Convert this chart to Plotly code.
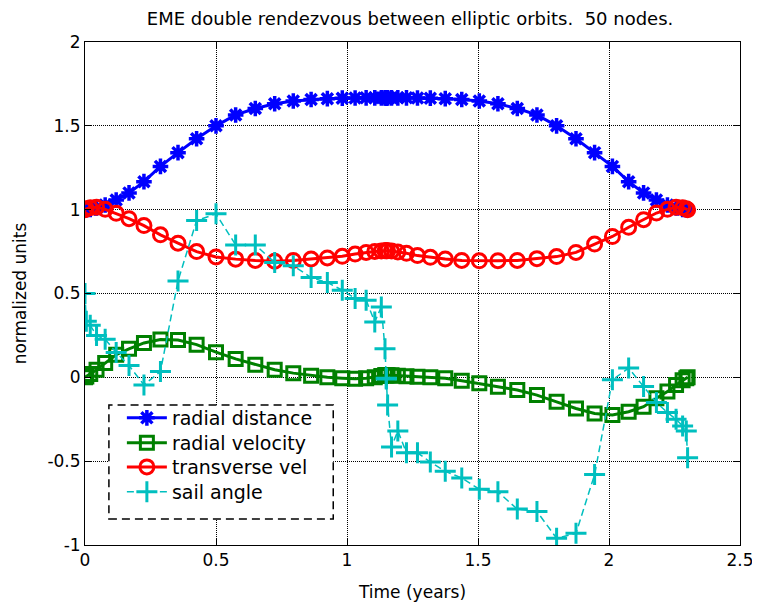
import plotly.graph_objects as go

# Time nodes (years): two phases of 25 nodes each
t = [0.000, 0.005, 0.020, 0.044, 0.077, 0.119, 0.168, 0.225, 0.288, 0.355,
     0.426, 0.500, 0.575, 0.650, 0.724, 0.795, 0.863, 0.925, 0.982, 1.031,
     1.073, 1.106, 1.131, 1.145, 1.150,
     1.150, 1.155, 1.170, 1.194, 1.227, 1.269, 1.318, 1.375, 1.438, 1.505,
     1.576, 1.650, 1.725, 1.800, 1.874, 1.945, 2.013, 2.075, 2.132, 2.181,
     2.223, 2.256, 2.281, 2.295, 2.300]

radial_distance = [1.000, 1.000, 1.002, 1.010, 1.028, 1.058, 1.100, 1.167, 1.258, 1.340,
                   1.423, 1.500, 1.565, 1.603, 1.632, 1.648, 1.657, 1.662, 1.665, 1.666,
                   1.667, 1.667, 1.667, 1.667, 1.667,
                   1.667, 1.667, 1.667, 1.667, 1.667, 1.666, 1.665, 1.662, 1.657, 1.648,
                   1.632, 1.603, 1.565, 1.500, 1.423, 1.340, 1.258, 1.167, 1.100, 1.058,
                   1.028, 1.010, 1.002, 1.000, 1.000]

radial_velocity = [0.000, 0.005, 0.020, 0.045, 0.085, 0.135, 0.170, 0.205, 0.225, 0.222,
                   0.195, 0.150, 0.110, 0.075, 0.045, 0.025, 0.010, 0.000, -0.005, -0.008,
                   -0.005, 0.000, 0.008, 0.012, 0.013,
                   0.013, 0.013, 0.012, 0.010, 0.007, 0.003, 0.000, -0.005, -0.020, -0.036,
                   -0.056, -0.076, -0.106, -0.146, -0.186, -0.216, -0.225, -0.205, -0.175, -0.125,
                   -0.085, -0.045, -0.018, -0.005, 0.000]

transverse_vel = [1.000, 1.005, 1.012, 1.015, 1.002, 0.978, 0.946, 0.905, 0.850, 0.800,
                  0.750, 0.718, 0.705, 0.697, 0.693, 0.697, 0.706, 0.712, 0.722, 0.735,
                  0.745, 0.750, 0.753, 0.755, 0.755,
                  0.755, 0.755, 0.753, 0.748, 0.740, 0.726, 0.716, 0.706, 0.697, 0.695,
                  0.696, 0.697, 0.708, 0.720, 0.745, 0.795, 0.840, 0.895, 0.940, 0.980,
                  1.002, 1.014, 1.012, 1.005, 1.000]

sail_angle = [0.500, 0.335, 0.310, 0.250, 0.227, 0.148, 0.070, -0.045, 0.035, 0.575,
              0.935, 0.975, 0.790, 0.790, 0.685, 0.665, 0.595, 0.565, 0.520, 0.470,
              0.460, 0.330, 0.420, 0.170, -0.005,
              -0.010, -0.165, -0.415, -0.320, -0.450, -0.450, -0.505, -0.560, -0.600, -0.667,
              -0.683, -0.786, -0.800, -0.960, -0.930, -0.580, -0.015, 0.055, -0.055, -0.150,
              -0.210, -0.250, -0.290, -0.320, -0.480]

x_ticks = [0, 0.5, 1, 1.5, 2, 2.5]
x_tick_labels = ["0", "0.5", "1", "1.5", "2", "2.5"]
y_ticks = [-1, -0.5, 0, 0.5, 1, 1.5, 2]
y_tick_labels = ["-1", "-0.5", "0", "0.5", "1", "1.5", "2"]

FONT = "DejaVu Sans, Liberation Sans, Arial, sans-serif"
BLUE = "rgb(0,0,255)"
GREEN = "rgb(0,128,0)"
RED = "rgb(255,0,0)"
CYAN = "rgb(0,191,191)"

fig = go.Figure()
fig.add_trace(go.Scatter(
    x=t, y=radial_distance, name="radial distance", legend="legend",
    mode="lines+markers",
    line=dict(color=BLUE, width=3),
    marker=dict(symbol="asterisk-open", size=13, line=dict(color=BLUE, width=3.5)),
))
fig.add_trace(go.Scatter(
    x=t, y=radial_velocity, name="radial velocity", legend="legend2",
    mode="lines+markers",
    line=dict(color=GREEN, width=3),
    marker=dict(symbol="square-open", size=13, color=GREEN, line=dict(color=GREEN, width=3)),
))
fig.add_trace(go.Scatter(
    x=t, y=transverse_vel, name="transverse vel", legend="legend3",
    mode="lines+markers",
    line=dict(color=RED, width=3),
    marker=dict(symbol="circle-open", size=14, color=RED, line=dict(color=RED, width=3)),
))
fig.add_trace(go.Scatter(
    x=t, y=sail_angle, name="sail angle", legend="legend4",
    mode="lines+markers",
    line=dict(color=CYAN, width=1.5, dash="7px,4px"),
    marker=dict(symbol="cross-thin-open", size=15, color=CYAN, line=dict(color=CYAN, width=3)),
))

axis_common = dict(
    showline=True, linecolor="black", linewidth=1, mirror="ticks",
    ticks="inside", ticklen=6, tickcolor="black",
    showgrid=True, gridcolor="black", gridwidth=1, griddash="1px,1px",
    zeroline=False,
    tickfont=dict(family=FONT, size=17, color="black"),
)

fig.update_xaxes(range=[0, 2.5], tickvals=x_ticks, ticktext=x_tick_labels,
                 title=dict(text="Time (years)", font=dict(family=FONT, size=17, color="black"),
                            standoff=16),
                 **axis_common)
fig.update_yaxes(range=[-1, 2], tickvals=y_ticks, ticktext=y_tick_labels,
                 title=dict(text="normalized units", font=dict(family=FONT, size=17, color="black"),
                            standoff=16),
                 **axis_common)

# dashed legend frame
fig.add_shape(type="rect", xref="paper", yref="paper",
              x0=0.0365, x1=0.379, y0=0.0517, y1=0.2783,
              line=dict(color="black", width=1.5, dash="8px,5px"),
              fillcolor="white", layer="above")

def leg(y):
    return dict(x=0.0563, y=y, xanchor="left", yanchor="middle",
                bgcolor="rgba(0,0,0,0)", borderwidth=0,
                font=dict(family=FONT, size=19, color="black"), itemwidth=40)

fig.update_layout(
    width=760, height=608,
    margin=dict(l=75, r=28, t=34, b=71),
    paper_bgcolor="white", plot_bgcolor="white",
    title=dict(text="EME double rendezvous between elliptic orbits.  50 nodes.",
               x=0.529, xanchor="center", y=1.0, yanchor="top", yref="container",
               pad=dict(t=4),
               font=dict(family=FONT, size=18, color="black")),
    showlegend=True,
    legend=leg(0.2525),
    legend2=leg(0.2028),
    legend3=leg(0.1550),
    legend4=leg(0.1054),
)

fig.write_html("out.html")
